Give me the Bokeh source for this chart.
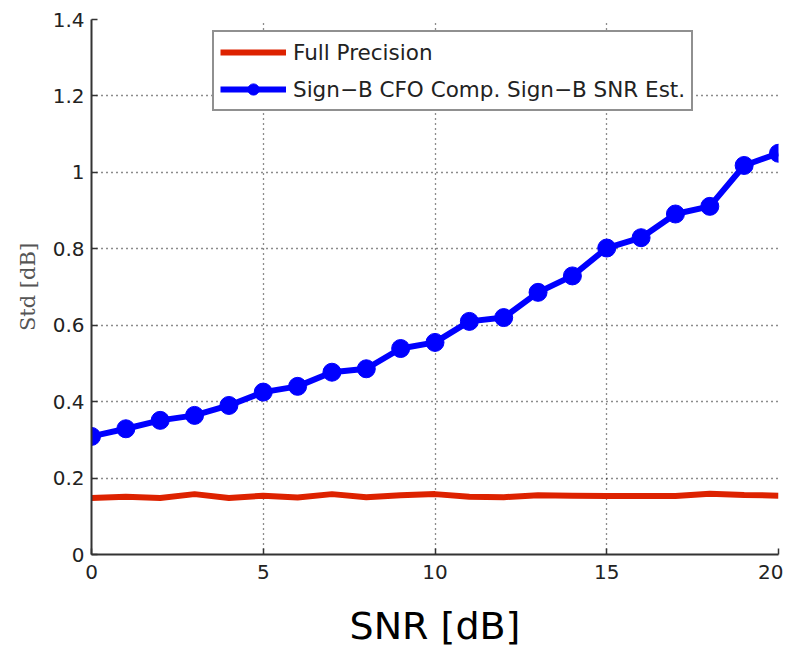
from bokeh.plotting import figure
from bokeh.models import Legend, LegendItem, FixedTicker, Range1d
from bokeh.embed import file_html
from bokeh.resources import INLINE

snr = list(range(0, 21))
full_precision = [0.148, 0.151, 0.148, 0.158, 0.148, 0.154, 0.149, 0.158, 0.150, 0.155, 0.158,
                  0.151, 0.150, 0.155, 0.154, 0.153, 0.153, 0.153, 0.159, 0.156, 0.154]
sign_b = [0.309, 0.329, 0.351, 0.364, 0.390, 0.425, 0.440, 0.477, 0.486, 0.539, 0.555,
          0.610, 0.620, 0.686, 0.729, 0.802, 0.829, 0.891, 0.911, 1.018, 1.050]
x_ticks = [0, 5, 10, 15, 20]
y_ticks = [0, 0.2, 0.4, 0.6, 0.8, 1.0, 1.2, 1.4]

p = figure(width=783, height=654, output_backend="svg", toolbar_location=None,
           x_range=Range1d(0, 20), y_range=Range1d(0, 1.4),
           min_border_left=91, min_border_right=5, min_border_top=19, min_border_bottom=100)
p.outline_line_color = None
p.background_fill_color = "white"

r1 = p.line(snr, full_precision, line_color="#dd2200", line_width=6)
r2 = p.line(snr, sign_b, line_color="#0000ff", line_width=6)
r3 = p.scatter(snr, sign_b, size=18, fill_color="#0000ff", line_color="#0000ff")

for ax in (p.xaxis[0], p.yaxis[0]):
    ax.major_tick_in = 6
    ax.major_tick_out = 0
    ax.minor_tick_in = 0
    ax.minor_tick_out = 0
    ax.axis_line_color = "#333333"
    ax.axis_line_width = 2
    ax.major_tick_line_color = "#333333"
    ax.major_tick_line_width = 1.5
    ax.major_label_text_font = "DejaVu Sans"
    ax.major_label_text_font_size = "20px"
    ax.major_label_text_color = "#222222"

p.xaxis.ticker = FixedTicker(ticks=x_ticks)
p.yaxis.ticker = FixedTicker(ticks=y_ticks)
p.yaxis.major_label_overrides = {0: "0", 0.2: "0.2", 0.4: "0.4", 0.6: "0.6", 0.8: "0.8",
                                 1.0: "1", 1.2: "1.2", 1.4: "1.4"}
p.xaxis.major_label_standoff = 10
p.yaxis.major_label_standoff = 7

p.xaxis.axis_label = "SNR [dB]"
p.xaxis.axis_label_text_font = "DejaVu Sans"
p.xaxis.axis_label_text_font_size = "38px"
p.xaxis.axis_label_text_font_style = "normal"
p.xaxis.axis_label_text_color = "#000000"
p.xaxis.axis_label_standoff = 22

p.yaxis.axis_label = "Std [dB]"
p.yaxis.axis_label_text_font = "DejaVu Serif"
p.yaxis.axis_label_text_font_size = "21px"
p.yaxis.axis_label_text_font_style = "normal"
p.yaxis.axis_label_text_color = "#555555"
p.yaxis.axis_label_standoff = 10

p.grid.grid_line_color = "#000000"
p.grid.grid_line_dash = "1 4"
p.grid.grid_line_width = 1.3
p.grid.grid_line_alpha = 0.9

legend = Legend(items=[LegendItem(label="Full Precision", renderers=[r1]),
                       LegendItem(label="Sign\u2212B CFO Comp. Sign\u2212B SNR Est.", renderers=[r2, r3])],
                location=(121, 443), orientation="vertical")
legend.label_text_font = "DejaVu Sans"
legend.label_text_font_size = "21.5px"
legend.label_text_color = "#222222"
legend.glyph_width = 66
legend.glyph_height = 28
legend.spacing = 9
legend.padding = 6
legend.margin = 0
legend.border_line_color = "#222222"
legend.border_line_width = 2
legend.background_fill_alpha = 1
legend.label_standoff = 7
p.add_layout(legend, "center")

open("out.html", "w").write(file_html(p, INLINE))
